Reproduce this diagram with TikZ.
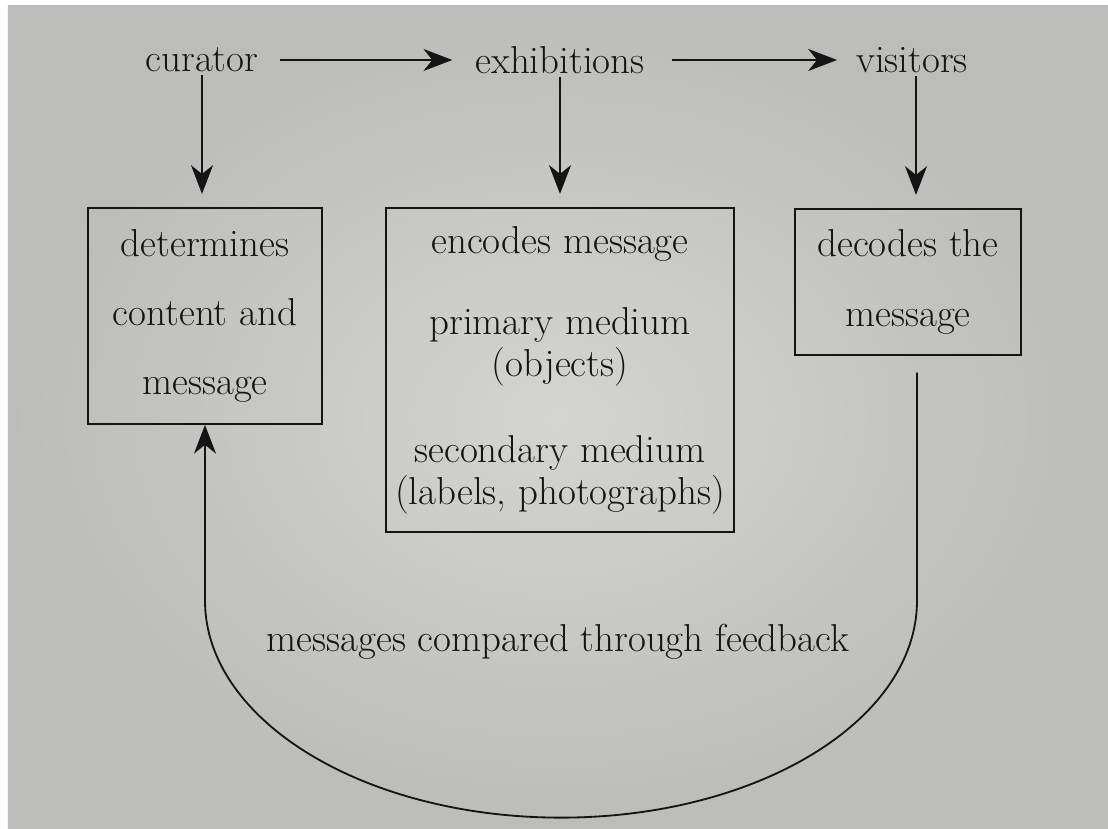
\documentclass[tikz,border=0pt]{standalone}
\usepackage{tikz}
\usetikzlibrary{arrows.meta,positioning,calc}

\definecolor{paper}{RGB}{212,212,210}
\definecolor{paperdark}{RGB}{188,188,186}
\definecolor{ink}{RGB}{20,20,20}

\tikzset{
  flow/.style={draw=ink,line width=1.3pt,-{Stealth[length=0.72cm,width=0.55cm,inset=0.22cm]}},
  stage/.style={text=ink,inner sep=2pt},
  panel/.style={draw=ink,line width=1.2pt,align=center,text=ink,inner sep=0pt}
}

\begin{document}
\begin{tikzpicture}[font=\fontsize{27.7}{30}\selectfont]
  \useasboundingbox (0,0) rectangle (27.7,20.725);
  % page background
  \fill[white] (0,0) rectangle (27.7,20.725);
  \shade[inner color=paper,outer color=paperdark] (0.2,0) rectangle (27.7,20.575);

  % top row
  \node[stage] (curator) at (5.05,19.225) {curator};
  \node[stage] (exhib) at (14.0,19.225) {exhibitions};
  \node[stage] (visitors) at (22.8,19.225) {visitors};
  \draw[flow,shorten <=0.45cm,shorten >=0.5cm] (curator) -- (exhib);
  \draw[flow,shorten <=0.6cm,shorten >=0.4cm] (exhib) -- (visitors);

  % boxes
  \node[panel,minimum width=5.85cm,minimum height=5.4cm] (curbox) at (5.125,12.825)
    {determines\\[0.66cm] content and\\[0.66cm] message};
  \node[panel,minimum width=8.7cm,minimum height=8.1cm] (exbox) at (14.0,11.475)
    {encodes message\\[0.98cm] primary medium\\ (objects)\\[1.08cm]
     secondary medium\\ (labels, photographs)};
  \node[panel,minimum width=5.65cm,minimum height=3.65cm] (visbox) at (22.7,13.675)
    {decodes the\\[0.68cm] message};

  % down arrows
  \draw[flow,shorten >=0.33cm] (curator.south) -- (curator.south |- curbox.north);
  \draw[flow,shorten >=0.33cm] (exhib.south) -- (exhib.south |- exbox.north);
  \draw[flow,shorten >=0.33cm] ([xshift=0.1cm]visitors.south) -- ([xshift=0.1cm]visitors.south |- visbox.north);

  % feedback loop
  \coordinate (fbstart) at ($(visbox.south)+(0.225,-0.42)$);
  \node[text=ink] (fbtext) at (13.95,4.675) {messages compared through feedback};
  \draw[flow] (fbstart) -- ++(0,-5.7) arc[start angle=0,end angle=-180,x radius=8.9cm,y radius=5.425cm]
    -- (curbox.south);
\end{tikzpicture}
\end{document}
